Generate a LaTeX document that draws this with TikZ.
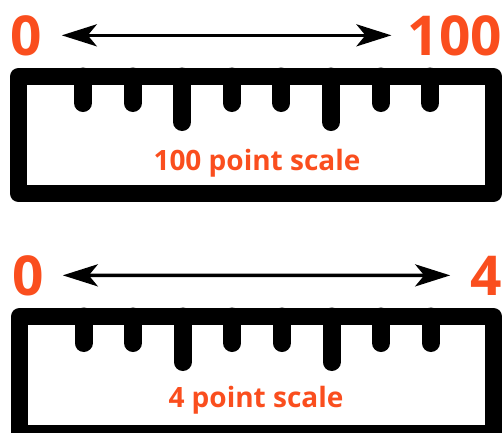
\documentclass[tikz,border=0pt]{standalone}
\usepackage{fontspec}
\setmainfont{Open Sans}
\usepackage{tikz}
\usetikzlibrary{arrows.meta}

\definecolor{scaleorange}{RGB}{250,78,30}

\tikzset{
  endlabel/.style={text=scaleorange, inner sep=0pt, font=\bfseries\fontsize{55}{55}\selectfont},
  scalename/.style={text=scaleorange, inner sep=0pt, font=\bfseries\fontsize{28}{28}\selectfont},
  rulerframe/.style={line width=17pt, line join=round},
  notch/.style={line width=18pt, line cap=round},
  span/.style={line width=3.5pt, {Stealth[length=35pt,width=22pt,inset=9pt]}-{Stealth[length=35pt,width=22pt,inset=9pt]}},
}

\begin{document}
\begin{tikzpicture}[x=1pt,y=-1pt]
\useasboundingbox (0,0) rectangle (502,432);
\clip (0,0) rectangle (502,432);

% 100 point ruler
\node[endlabel, anchor=base west] (zeroA) at (10,55) {0};
\node[endlabel, anchor=base east] (maxA) at (502,55) {100};
\draw[span, shorten <=20pt, shorten >=16pt] (zeroA) -- (maxA);
\draw[rulerframe] (18.5,76.5) rectangle (493.5,193.5);
\foreach \i/\d in {0/35,1/35,2/54,3/35,4/35,5/54,6/35,7/35}
  \draw[notch] (83+49.6*\i,76.5) -- ++(0,\d-8.5);
\node[scalename, anchor=base] (nameA) at (257,170) {100 point scale};

% 4 point ruler
\node[endlabel, anchor=base west] (zeroB) at (12,295) {0};
\node[endlabel, anchor=base east] (maxB) at (502,295) {4};
\draw[span, shorten <=19pt, shorten >=20pt] (zeroB) -- (maxB);
\draw[rulerframe] (19.5,316.5) rectangle (493.5,433.5);
\foreach \i/\d in {0/35,1/35,2/54,3/35,4/35,5/54,6/35,7/35}
  \draw[notch] (83.5+49.6*\i,316.5) -- ++(0,\d-8.5);
\node[scalename, anchor=base] (nameB) at (256,407) {4 point scale};
\end{tikzpicture}
\end{document}
